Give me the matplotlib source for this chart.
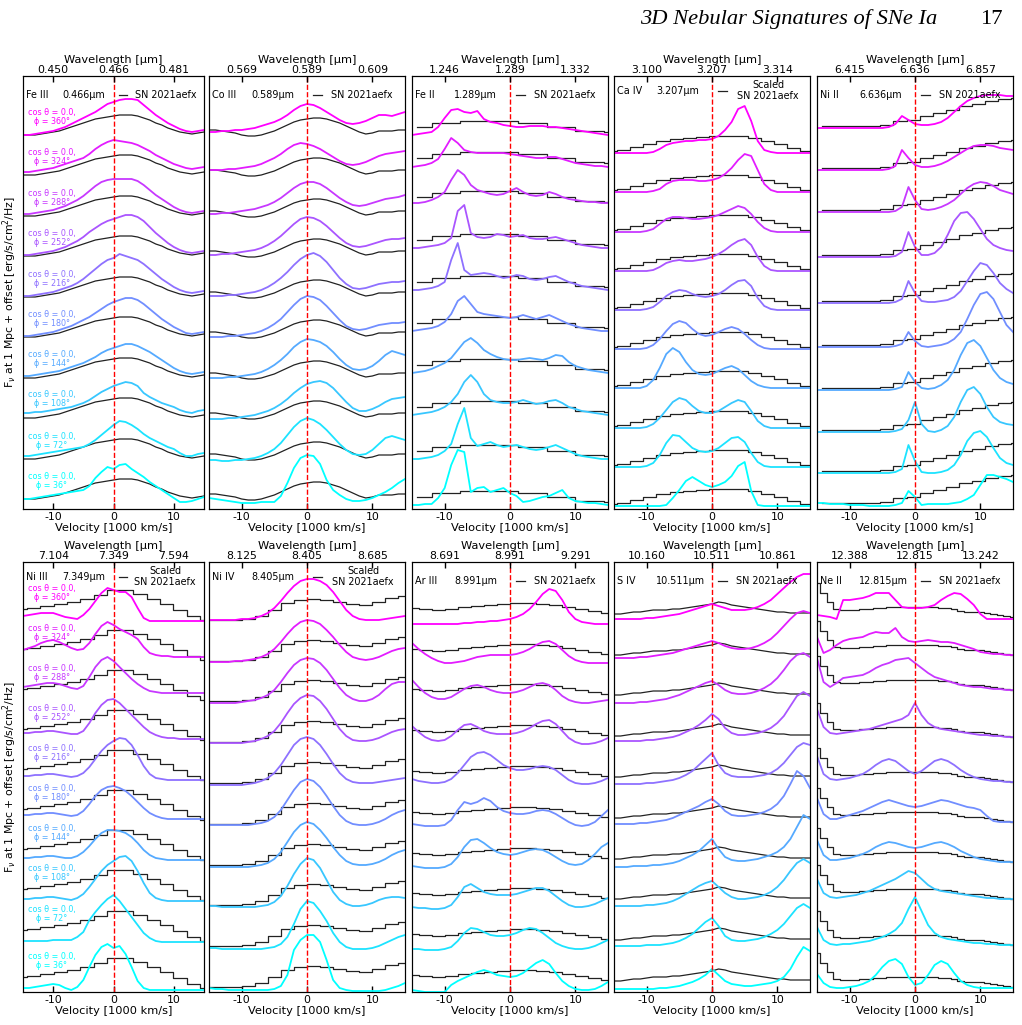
import numpy as np
import matplotlib.pyplot as plt

plt.rcParams['font.family'] = ['DejaVu Sans']
plt.rcParams['axes.unicode_minus'] = False

C_KMS = 299792.458

vel = np.arange(-15, 16)          # model velocity grid [1000 km/s]
phis = [36, 72, 108, 144, 180, 216, 252, 288, 324, 360]

# ---------------- Fe III 0.466 um ----------------
fe3_models = [
    [1,1,2,3,4,5,6,7,8,9, 10,14,22,28,33,31,35,36,31,27, 23,18,14,10,6,2,-2,-2,-1,1, 3],
    [4,4,5,6,7,8,9,10,11,12, 13,16,20,25,30,35,39,38,35,31, 26,22,19,16,13,11,7,4,4,6, 7],
    [6,6,7,7,8,9,10,11,12,14, 16,19,23,27,30,33,35,37,36,33, 26,22,19,16,14,12,9,7,6,8, 9],
    [3,3,4,5,6,7,8,10,12,14, 16,19,22,26,29,31,33,35,35,33, 30,27,23,19,15,11,8,6,5,6, 7],
    [2,2,3,4,5,6,8,10,12,15, 18,21,25,29,33,36,38,40,40,38, 34,29,24,19,15,11,8,5,4,5, 6],
    [2,2,3,4,5,6,8,10,12,15, 19,24,29,34,38,40,44,42,40,38, 34,29,24,19,15,11,8,6,5,6, 7],
    [2,2,3,4,5,6,8,10,13,16, 20,25,29,33,36,38,40,42,42,40, 36,30,24,19,14,10,7,5,4,5, 6],
    [3,3,4,5,6,7,9,11,14,17, 21,26,31,35,37,38,38,38,38,36, 32,27,22,18,14,10,7,5,4,5, 6],
    [4,4,5,6,7,8,10,12,14,16, 18,22,27,31,34,36,35,34,33,31, 28,25,21,18,15,12,10,8,7,8, 9],
    [1,1,2,3,4,5,7,9,12,15, 18,21,24,28,32,34,36,37,37,36, 31,26,21,17,13,10,7,5,4,5, 6],
]
fe3_obs = [1,1,1,2,3,4,5,7,9,11, 13,15,17,18,19,20,21,21,21,20, 18,16,13,11,8,6,4,3,2,3, 4]
fe3_offsets = [0, 40, 81, 121, 162, 202, 243, 283, 324, 364]

# ---------------- Co III 0.589 um ----------------
co3_models = [
    [2,1,0,-1,-2,-3,-3,-3,-2,-2, -2,4,17,32,42,45,44,36,20,10, 5,1,-1,-1,0,2,5,8,12,17, 21],
    [0,0,-1,-1,0,0,1,2,4,7, 11,17,25,33,39,42,40,36,30,23, 16,10,6,5,6,10,16,22,24,22, 20],
    [0,0,0,1,1,2,3,4,6,8, 11,15,20,26,31,35,37,38,36,31, 24,17,11,8,8,10,13,17,20,21, 22],
    [1,1,1,2,2,3,4,5,7,10, 14,19,25,32,37,40,39,37,33,27, 20,14,10,9,10,13,18,24,28,26, 24],
    [1,1,1,2,2,3,4,5,7,10, 14,19,26,33,39,42,41,38,32,25, 18,12,9,8,9,11,13,14,15,15, 16],
    [2,2,2,3,3,4,5,6,8,11, 15,20,26,33,39,43,45,42,36,28, 20,14,10,9,10,12,14,15,16,16, 17],
    [2,2,3,3,4,5,6,7,9,12, 16,21,27,33,38,40,39,36,31,25, 19,14,11,10,11,13,15,17,18,18, 19],
    [3,3,4,4,5,6,7,8,10,12, 15,19,24,29,33,35,35,33,29,24, 19,15,12,11,12,14,16,18,19,20, 22],
    [6,6,6,7,7,8,9,10,12,15, 18,22,27,31,33,32,30,27,23,19, 15,12,11,12,14,17,20,22,23,24, 25],
    [4,4,5,5,6,6,7,8,10,12, 14,17,21,26,30,32,31,28,24,20, 16,13,12,13,15,18,21,21,20,22, 24],
]
co3_obs = [6,6,5,4,3,1,0,0,1,3, 5,8,11,14,16,17,18,18,17,15, 13,10,7,4,2,3,5,5,5,6, 6]
co3_offsets = [0, 40, 81, 121, 162, 202, 243, 283, 324, 364]

# ---------------- Fe II 1.289 um ----------------
fe2_models = [
    [-5,-5,-4,-4,2,12,35,50,48,8, 12,13,8,10,12,7,4,-2,-1,1, 3,4,7,10,2,-1,-2,-3,-3,-4, -5],
    [-5,-5,-4,-3,-1,3,10,30,46,16, 8,10,12,9,7,8,9,7,5,4, 5,7,9,6,3,0,-2,-3,-4,-5, -5],
    [-5,-4,-3,-2,0,3,8,16,28,35, 28,16,10,8,7,7,8,10,8,6, 7,9,10,7,3,1,-1,-2,-3,-4, -5],
    [-5,-4,-3,-1,2,5,10,18,26,30, 25,18,14,11,9,8,8,9,10,9, 8,10,13,12,6,2,0,-2,-3,-4, -5],
    [-5,-4,-3,-2,0,4,12,25,30,22, 14,12,11,10,9,8,9,11,9,7, 9,11,8,5,2,0,-2,-3,-4,-5, -5],
    [-5,-5,-4,-3,-1,3,25,42,15,10, 11,12,11,9,7,8,10,9,6,5, 6,8,9,6,3,1,-1,-2,-3,-4, -5],
    [-5,-5,-4,-3,-2,0,5,32,38,10, 6,5,6,9,8,6,7,8,5,4, 4,5,6,4,2,0,-2,-3,-4,-5, -5],
    [-3,-3,-2,0,3,8,20,30,25,15, 10,8,6,5,6,9,12,8,5,4, 5,8,6,3,1,0,-1,-2,-2,-3, -3],
    [-6,-5,-4,-2,2,12,23,18,11,9, 8,8,8,8,8,7,6,5,4,3, 3,4,4,2,0,-2,-3,-4,-5,-5, -6],
    [-5,-4,-3,-2,3,12,20,21,18,17, 19,11,8,7,5,4,3,3,4,4, 4,3,3,2,1,0,-1,-2,-3,-4, -5],
]
fe2_obs_v = [-14.2, -9.8, -5.4, -1.0, 3.4, 7.8, 12.2, 16.6]
fe2_obs = [3, 7, 9, 9, 7, 3, -1, -2]
fe2_offsets = [0, 46, 90, 132, 174, 215, 257, 300, 339, 370]

# ---------------- Ca IV 3.207 um ----------------
ca4_models = [
    [0,0,0,0,0,0,0,0,1,8, 16,25,29,25,21,19,21,24,30,40, 44,15,1,0,0,0,0,0,0,0, 0],
    [0,0,0,0,0,1,4,12,24,32, 31,25,19,16,15,16,19,24,29,30, 25,14,5,1,0,0,0,0,0,0, 0],
    [0,0,0,0,0,1,4,10,18,26, 30,28,22,17,15,15,17,21,25,28, 26,17,7,2,0,0,0,0,0,0, 0],
    [0,0,0,0,0,2,8,20,34,40, 36,26,18,14,13,14,17,20,22,19, 13,7,3,1,0,0,0,0,0,0, 0],
    [0,0,0,0,0,1,4,10,18,25, 28,26,20,15,13,14,17,20,22,20, 15,9,4,1,0,0,0,0,0,0, 0],
    [0,0,0,0,0,1,3,8,14,18, 20,19,16,14,13,14,16,20,25,29, 30,24,12,4,1,0,0,0,0,0, 0],
    [0,0,0,0,0,0,1,4,8,10, 11,10,10,11,12,14,17,21,26,30, 32,26,14,5,1,0,0,0,0,0, 0],
    [0,0,0,0,0,1,3,8,13,15, 15,14,13,13,14,15,17,20,23,26, 24,18,10,4,1,0,0,0,0,0, 0],
    [0,0,0,0,0,0,1,3,8,11, 12,12,12,11,11,12,14,18,24,32, 38,36,22,8,2,0,0,0,0,0, 0],
    [0,0,0,0,0,0,1,4,8,10, 11,12,12,13,13,14,17,23,31,44, 47,32,12,3,1,0,0,0,0,0, 0],
]
ca4_obs_v = [-15.5, -13.5, -11.5, -9.5, -7.5, -5.5, -3.5, -1.5, 0.5, 2.5, 4.5, 6.5, 8.5, 10.5, 12.5, 14.5, 16.5]
ca4_obs = [2, 3, 6, 9, 12, 14, 15, 16, 17, 17, 17, 15, 12, 9, 5, 2, 1]
ca4_offsets = [-6, 33, 72, 112, 151, 190, 229, 268, 308, 347]

# ---------------- Ni II 6.636 um ----------------
ni2_models = [
    [2,2,1,1,1,0,0,0,-1,-1, -1,-1,0,2,14,8,0,1,1,1, 1,2,3,6,10,20,30,30,28,26, 23],
    [0,0,0,0,0,0,0,0,0,0, 0,0,1,4,28,12,1,0,0,1, 3,8,18,32,40,42,36,25,15,10, 8],
    [0,0,0,0,0,0,0,0,0,0, 0,0,1,3,12,30,8,1,0,2, 6,15,30,42,45,38,25,15,10,8, 7],
    [0,0,0,0,0,0,0,0,0,0, 0,0,1,3,18,8,2,1,2,5, 10,20,35,47,50,44,32,20,12,8, 6],
    [0,0,0,0,0,0,0,0,0,0, 0,0,1,3,15,6,1,0,1,2, 4,8,15,28,42,53,55,48,35,22, 15],
    [0,0,0,0,0,0,0,0,0,0, 0,0,1,4,22,10,2,1,1,2, 3,6,12,22,32,40,38,30,20,14, 10],
    [0,0,0,0,0,0,0,0,0,0, 0,0,1,5,25,10,2,2,4,10, 22,36,44,45,38,28,18,12,9,7, 6],
    [0,0,0,0,0,0,0,0,0,0, 0,0,1,5,25,12,3,2,3,5, 8,12,18,24,28,30,29,26,22,20, 18],
    [0,0,0,0,0,0,0,0,0,0, 0,1,4,20,12,5,3,3,4,6, 9,13,17,21,24,25,25,24,22,21, 20],
    [0,0,0,0,0,0,0,0,0,0, 0,1,4,12,8,4,3,3,4,6, 10,16,22,27,30,32,33,33,33,32, 32],
]
ni2_obs_v = [-14.3, -12.3, -10.3, -8.3, -6.3, -4.3, -2.3, -0.3, 1.7, 3.7, 5.7, 7.7, 9.7, 11.7, 13.7, 15.7]
ni2_obs = [2, 2, 2, 2, 2, 3, 7, 8, 12, 15, 18, 22, 24, 27, 29, 30]
ni2_offsets = [-5, 27, 68, 110, 153, 197, 243, 288, 330, 372]

# ---------------- Ni III 7.349 um ----------------
ni3_models = [
    [1,1,2,3,4,5,4,1,-1,2, 9,22,34,42,45,41,43,35,22,8, 1,-1,-1,-1,-1,-1,-1,-1,-1,-1, -1],
    [1,1,1,1,1,2,2,2,2,5, 10,22,30,37,43,47,41,33,25,17, 9,4,1,0,0,0,0,0,0,0, 0],
    [2,2,3,3,4,4,3,2,1,3, 7,14,22,30,36,40,44,45,40,30, 18,8,3,1,0,0,0,0,0,0, 0],
    [3,3,4,4,5,5,4,3,3,5, 9,15,22,28,31,31,30,28,24,18, 11,6,3,2,1,1,1,1,1,1, 1],
    [6,6,7,7,8,8,7,6,5,6, 10,17,25,31,34,35,33,30,25,19, 13,8,5,3,2,2,2,2,2,2, 2],
    [5,5,6,6,7,7,6,5,4,5, 8,14,22,30,36,40,43,42,36,26, 15,7,3,2,1,1,1,1,1,1, 1],
    [8,8,9,9,10,10,9,8,7,7, 10,18,28,36,41,42,38,32,26,20, 14,9,6,4,3,3,2,2,2,2, 2],
    [14,15,16,17,18,18,17,15,13,12, 15,24,34,41,44,40,34,28,22,17, 13,10,9,8,8,8,8,8,8,8, 8],
    [11,13,15,18,20,21,19,16,13,11, 12,18,27,35,39,36,32,29,26,22, 14,8,6,5,5,4,4,4,4,4, 4],
    [5,6,7,8,8,8,6,4,3,2, 6,12,20,28,33,31,29,29,24,13, 3,0,0,0,0,0,0,0,0,0, 0],
]
ni3_obs_v = [-15.4, -13.2, -11.0, -8.8, -6.6, -4.4, -2.2, 0.0, 2.2, 4.4, 6.6, 8.8, 11.0, 13.2, 15.4]
ni3_obs = [12, 13, 15, 17, 19, 22, 26, 31, 31, 27, 22, 17, 11, 5, 1]
ni3_offsets = [0, 47, 88, 128, 168, 208, 248, 288, 328, 368]

# ---------------- Ni IV 8.405 um ----------------
ni4_models = [
    [2,1,1,0,0,0,0,0,0,0, 1,4,15,40,50,55,55,48,30,10, 2,0,-1,-1,-1,-1,-1,0,2,4, 7],
    [1,1,0,0,0,0,0,0,0,1, 2,5,12,25,40,48,46,38,28,16, 7,2,0,0,0,1,3,6,9,12, 14],
    [2,2,1,1,1,1,1,1,2,3, 6,12,22,34,44,50,48,40,28,16, 8,4,2,2,3,5,8,10,11,11, 10],
    [1,1,1,1,1,1,1,2,3,5, 9,16,26,36,43,46,44,38,30,21, 13,7,4,3,3,4,6,9,13,16, 18],
    [2,2,2,2,2,2,2,3,4,6, 10,17,27,37,45,48,46,40,31,21, 12,6,3,2,2,3,5,8,12,15, 17],
    [1,1,1,1,1,1,2,3,5,8, 13,21,31,41,47,49,47,41,32,22, 13,7,4,3,3,3,4,5,6,7, 8],
    [2,2,2,2,2,2,3,4,6,9, 14,22,32,41,47,50,49,44,36,26, 16,9,5,4,4,5,7,10,13,15, 16],
    [1,1,1,1,1,2,3,4,6,9, 14,22,31,39,44,46,45,41,34,25, 16,9,5,3,3,5,9,15,20,22, 22],
    [2,2,2,2,3,3,4,5,7,10, 15,22,30,37,42,44,43,40,34,27, 19,12,7,5,4,5,7,10,13,15, 16],
    [3,3,3,3,3,4,4,5,7,10, 15,22,30,37,42,44,44,42,38,31, 22,13,7,4,3,3,3,4,5,6, 7],
]
ni4_obs_v = [-15, -13, -11, -9, -7, -5, -3, -1, 1, 3, 5, 7, 9, 11, 13, 15]
ni4_obs = [3, 3, 3, 4, 7, 13, 20, 23, 24, 23, 21, 19, 18, 21, 25, 27]
ni4_offsets = [-1, 40, 81, 121, 162, 203, 244, 285, 325, 366]

# ---------------- Ar III 8.991 um ----------------
ar3_models = [
    [1,0,-1,-1,-1,-1,6,10,13,16, 19,21,19,16,15,14,15,18,23,28, 31,27,18,10,5,2,1,1,2,5, 9],
    [1,1,0,0,0,1,3,9,17,22, 21,18,15,14,14,15,17,20,22,21, 17,12,7,4,2,1,1,2,4,7, 10],
    [2,1,1,0,0,1,4,12,22,25, 21,17,15,14,14,14,15,17,19,21, 21,18,13,8,4,2,2,3,5,8, 11],
    [3,2,1,1,1,2,5,12,22,29, 30,26,21,17,15,14,15,17,19,20, 19,16,12,8,5,4,5,9,15,22, 26],
    [4,3,2,2,2,3,8,18,26,24, 26,30,27,21,17,15,14,14,15,17, 18,17,14,10,6,3,2,3,6,12, 18],
    [8,6,5,4,4,5,8,14,22,30, 34,35,32,27,22,19,17,17,18,20, 21,20,17,12,7,4,3,3,4,6, 9],
    [20,14,9,6,5,6,10,16,21,22, 19,15,13,12,12,12,13,15,18,22, 25,26,22,15,8,4,2,2,3,5, 8],
    [25,18,12,8,6,6,8,12,16,19, 20,18,15,13,12,12,13,15,18,21, 22,20,15,9,5,3,2,2,3,4, 5],
    [22,16,11,7,4,2,2,3,4,6, 8,9,10,10,10,10,11,13,16,20, 23,24,21,15,9,5,3,2,2,2, 2],
    [0,0,0,0,0,0,0,0,1,1, 2,2,3,3,4,5,7,10,15,22, 30,35,33,24,12,5,2,1,0,0, 0],
]
ar3_obs_v = [-15, -13, -11, -9, -7, -5, -3, -1, 1, 3, 5, 7, 9, 11, 13, 15]
ar3_obs = [16, 15, 14, 15, 17, 18, 19, 20, 21, 21, 20, 19, 17, 15, 13, 11]
ar3_offsets = [-2, 39, 80, 120, 161, 202, 243, 284, 324, 365]

# ---------------- S IV 10.511 um ----------------
s4_models = [
    [0,0,0,0,0,0,0,1,1,2, 3,5,7,10,14,20,14,8,5,4, 3,3,4,5,6,8,12,20,32,42, 38],
    [2,2,2,2,2,3,3,3,4,5, 7,10,14,20,26,30,22,12,8,7, 7,8,9,11,14,18,24,32,40,44, 40],
    [1,1,1,1,1,2,2,3,4,6, 9,13,17,21,24,26,20,14,10,8, 8,9,10,12,15,20,27,36,44,48, 44],
    [0,0,0,1,1,1,2,2,3,4, 6,9,12,16,22,28,18,10,7,6, 6,7,8,10,12,15,20,28,40,52, 48],
    [2,2,2,2,3,3,4,5,6,8, 11,14,17,20,24,27,22,15,11,10, 10,11,12,14,17,22,30,42,55,50, 38],
    [1,1,1,1,1,2,2,3,4,5, 7,10,14,20,26,32,20,12,9,8, 8,8,9,10,12,16,22,30,38,42, 40],
    [3,3,3,3,3,4,4,5,6,7, 9,12,15,19,24,30,25,16,11,9, 9,10,11,13,16,21,28,38,48,52, 48],
    [0,0,0,0,1,1,2,3,4,6, 8,11,14,17,20,22,18,13,10,9, 9,10,12,15,19,25,33,42,48,50, 46],
    [5,5,5,5,6,6,7,8,9,10, 12,14,16,18,20,22,20,17,15,14, 14,15,17,20,24,30,37,44,50,52, 50],
    [3,3,3,3,3,4,4,5,6,7, 8,10,12,14,16,18,16,14,12,12, 12,13,15,18,22,28,34,40,45,48, 48],
]
s4_obs = [8,8,9,10,10,11,12,12,12,13, 13,14,15,16,17,18,20,19,17,16, 15,14,13,12,11,10,10,9,9,9, 9]
s4_offsets = [0, 41, 82, 122, 163, 204, 245, 286, 326, 367]

# ---------------- Ne II 12.815 um ----------------
ne2_models = [
    [15,6,2,1,1,2,3,5,8,14, 22,28,30,25,12,4,6,14,24,28, 25,16,8,4,2,1,1,1,1,1, 1],
    [20,7,3,2,3,3,4,5,6,8, 10,13,17,24,38,50,36,22,14,10, 8,7,6,5,4,4,3,3,2,2, 2],
    [22,8,4,3,4,5,6,8,10,13, 16,19,22,26,30,28,22,16,12,10, 9,8,7,6,5,4,3,3,2,2, 2],
    [24,9,4,4,5,6,8,10,13,17, 20,22,21,19,17,16,17,19,21,22, 20,17,13,10,7,5,4,3,2,2, 2],
    [26,10,5,5,7,9,11,13,16,19, 22,24,22,20,18,17,18,20,22,24, 23,21,19,17,16,14,8,3,2,2, 2],
    [28,10,5,4,5,6,8,10,14,19, 23,25,23,18,13,10,13,18,23,25, 23,19,14,10,7,5,4,3,3,2, 2],
    [30,12,6,5,6,7,8,9,10,12, 14,16,18,20,24,36,24,16,12,10, 9,8,7,6,5,4,4,3,3,2, 2],
    [34,10,5,9,14,15,16,17,20,24, 27,29,32,33,34,29,24,19,15,13, 11,9,7,6,5,5,4,3,3,2, 2],
    [20,4,7,12,16,18,19,20,23,25, 24,24,29,20,16,15,16,17,16,15, 15,14,12,10,8,5,4,3,3,2, 2],
    [4,3,2,0,19,19,20,21,23,26, 26,26,19,12,11,11,11,12,14,19, 23,26,25,20,14,5,0,0,0,0, 0],
]
ne2_obs = [36,26,17,10,9,9,9,10,10,11, 11,12,12,12,12,12,12,12,12,11, 11,10,8,7,7,7,6,5,4,3, 2]
ne2_offsets = [0, 42, 88, 125, 165, 205, 250, 297, 332, 370]

top_panels = [
    ('Fe III', 0.46581, fe3_models, vel, fe3_obs, False, False, fe3_offsets),
    ('Co III', 0.589, co3_models, vel, co3_obs, False, False, co3_offsets),
    ('Fe II', 1.289, fe2_models, fe2_obs_v, fe2_obs, True, False, fe2_offsets),
    ('Ca IV', 3.207, ca4_models, ca4_obs_v, ca4_obs, True, True, ca4_offsets),
    ('Ni II', 6.636, ni2_models, ni2_obs_v, ni2_obs, True, False, ni2_offsets),
]
bottom_panels = [
    ('Ni III', 7.349, ni3_models, ni3_obs_v, ni3_obs, True, True, ni3_offsets),
    ('Ni IV', 8.405, ni4_models, ni4_obs_v, ni4_obs, True, True, ni4_offsets),
    ('Ar III', 8.991, ar3_models, ar3_obs_v, ar3_obs, True, False, ar3_offsets),
    ('S IV', 10.51052, s4_models, vel, s4_obs, False, False, s4_offsets),
    ('Ne II', 12.815, ne2_models, vel, ne2_obs, True, False, ne2_offsets),
]

for name, _, models, _, _, _, _, _ in top_panels + bottom_panels:
    for k, m in enumerate(models):
        if len(m) != len(vel):
            raise ValueError(f'{name} curve {k} has {len(m)} points')

colors = plt.cm.cool(np.linspace(0, 1, len(phis)))

FW, FH = 1022, 1025
fig = plt.figure(figsize=(FW / 100, FH / 100), dpi=100)

col_left = [23, 209, 412, 614, 817]
col_width = [181, 196, 196, 196, 196]
row_bottom = [509, 992]
row_height = [433, 430]
row_ylim = [(-9, 424), (-3, 427)]
label_lift = [19.5, 28]
ticks = [-10, 0, 10]

for r, row in enumerate([top_panels, bottom_panels]):
    for c, (ion, wave, models, obs_v, obs, steps, scaled, offsets) in enumerate(row):
        ax = fig.add_axes([col_left[c] / FW, 1 - row_bottom[r] / FH,
                           col_width[c] / FW, row_height[r] / FH])
        for k in range(len(phis)):
            ax.plot(obs_v, np.array(obs) + offsets[k], color='#222222', lw=0.9,
                    drawstyle='steps-mid' if steps else 'default', zorder=2)
            ax.plot(vel, np.array(models[k]) + offsets[k], color=colors[k], lw=1.3, zorder=3)
        ax.axvline(0, color='red', ls='--', lw=1.0, zorder=4)
        ax.set_xlim(-15, 15)
        ax.set_ylim(*row_ylim[r])
        ax.set_yticks([])
        ax.set_xticks(ticks)
        ax.tick_params(axis='x', direction='in', length=4, width=1, labelsize=7.8, pad=2)
        ax.set_xlabel('Velocity [1000 km/s]', fontsize=8.2, labelpad=1)

        top = ax.twiny()
        top.set_xlim(-15, 15)
        top.set_xticks(ticks)
        top.set_xticklabels([f'{wave * (1 + t * 1000 / C_KMS):.3f}' for t in ticks])
        top.tick_params(axis='x', direction='in', length=4, width=1, labelsize=7.8, pad=1)
        top.set_xlabel('Wavelength [μm]', fontsize=8.2, labelpad=1)

        # header inside the panel
        hpx = 14.5 if scaled else 18.5
        yh = 1 - hpx / row_height[r]
        ax.text(0.015, yh, ion, transform=ax.transAxes, fontsize=6.9, va='center', ha='left')
        ax.text(0.215, yh, f'{wave:.3f}μm', transform=ax.transAxes, fontsize=6.9,
                va='center', ha='left')
        ax.plot([0.53, 0.575], [yh, yh], transform=ax.transAxes, color='#222222', lw=0.9)
        if scaled:
            ax.text(0.786, yh, 'Scaled\nSN 2021aefx', transform=ax.transAxes, fontsize=6.9,
                    va='center', ha='center', linespacing=1.05)
        else:
            ax.text(0.62, yh, 'SN 2021aefx', transform=ax.transAxes, fontsize=6.9,
                    va='center', ha='left')

        if c == 0:
            for k, phi in enumerate(phis):
                ax.text(0.16, offsets[k] + label_lift[r], f'cos θ = 0.0,\nϕ = {phi}°',
                        transform=ax.get_yaxis_transform(), color=colors[k],
                        fontsize=5.8, ha='center', va='center', linespacing=1.0)

for r in range(2):
    yc = 1 - (row_bottom[r] - row_height[r] / 2) / FH
    fig.text(10 / FW, yc, r'F$_\nu$ at 1 Mpc + offset [erg/s/cm$^2$/Hz]', rotation=90,
             fontsize=7.8, ha='center', va='center')

fig.text(937 / FW, 1 - 24 / FH, '3D Nebular Signatures of SNe Ia', fontsize=16.2,
         family=['Liberation Serif', 'DejaVu Serif'], style='italic', ha='right', va='baseline')
fig.text(1003 / FW, 1 - 24 / FH, '17', fontsize=16.2,
         family=['Liberation Serif', 'DejaVu Serif'], ha='right', va='baseline')

fig.savefig('out.png', dpi=100)
